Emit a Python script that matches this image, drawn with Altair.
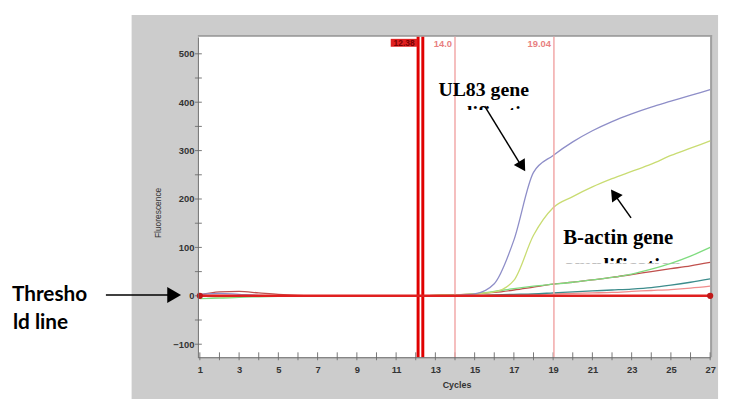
import altair as alt
import pandas as pd

cycles = list(range(1, 28))
ul83 = [3, 5, 3, 1, 0, 0, 0, 0, 0, 0, 0, 0, 0, 1, 4, 25, 115, 255, 290, 318, 341, 360, 376, 390, 402, 414, 426]
bactin = [0, -2, -1, 0, 0, 0, 0, 0, 0, 0, 0, 0, 1, 2, 4, 8, 32, 125, 182, 205, 225, 242, 257, 272, 290, 305, 320]
green = [-6, -5, -3, -2, -1, 0, 0, -1, -1, 0, 0, 0, 1, 2, 4, 9, 15, 20, 24, 28, 33, 38, 45, 55, 67, 82, 100]
brown = [2, 8, 9, 6, 3, 1, 0, 0, 0, 0, 0, 0, 1, 2, 4, 7, 12, 18, 24, 28, 33, 38, 44, 50, 56, 62, 69]
teal = [0, -2, -1, 0, 0, 0, 0, 0, 0, 0, 0, 0, 0, 1, 1, 2, 3, 4, 6, 8, 10, 12, 14, 17, 22, 28, 35]
pink = [1, 1, 0, 0, 0, 0, 0, 0, 0, 0, 0, 0, 0, 0, 1, 1, 2, 3, 4, 5, 6, 7, 9, 11, 13, 16, 20]
threshold = [0] * 27

series_names = ["pink", "teal", "brown", "green", "bactin", "ul83"]
series_vals = [pink, teal, brown, green, bactin, ul83]
series_colors = ["#f08c8c", "#3c8c8c", "#c0504d", "#7fdc7f", "#c9dc72", "#8e8ec8"]

marker_cycles = [1, 27]
marker_vals = [0, 0]

vline_red = [12.12, 12.36]
vline_pink = [14.0, 19.04]
vline_pink_labels = ["14.0", "19.04"]

x_ticks = list(range(1, 28, 2))
x_minor = list(range(1, 28))
y_ticks = [-100, 0, 100, 200, 300, 400, 500]
y_minor = list(range(-100, 501, 50))

rows = []
for name, vals in zip(series_names, series_vals):
    for c, v in zip(cycles, vals):
        rows.append({"series": name, "cycle": c, "value": v})
df = pd.DataFrame(rows)
thr = pd.DataFrame({"cycle": cycles, "value": threshold})
mk = pd.DataFrame({"cycle": marker_cycles, "value": marker_vals})
vr = pd.DataFrame({"cycle": vline_red})
vp = pd.DataFrame({"cycle": vline_pink, "label": vline_pink_labels})
xm = pd.DataFrame({"cycle": x_minor})
ym = pd.DataFrame({"value": y_minor})
one = pd.DataFrame({"a": [0]})

xs = alt.Scale(domain=[0.9, 27.0], nice=False, zero=False)
ys = alt.Scale(domain=[-127, 535], nice=False, zero=False)
xaxis = alt.Axis(values=x_ticks, title=None, grid=False, labelFlush=False, zindex=1,
                 tickSize=0, labelPadding=7, labelOverlap=False)
yaxis = alt.Axis(values=y_ticks, title=None, grid=False, labelFlush=False, zindex=1,
                 tickSize=0, labelPadding=4, labelOverlap=False)
X = alt.X("cycle:Q", scale=xs, axis=xaxis)
Y = alt.Y("value:Q", scale=ys, axis=yaxis)


def rect(x, x2, y, y2, color):
    return alt.Chart(one).mark_rect(color=color).encode(
        x=alt.value(x), x2=alt.value(x2), y=alt.value(y), y2=alt.value(y2))


def txt(s, x, y, size, font, color="#000", weight="bold", align="center", angle=0, baseline="alphabetic"):
    return alt.Chart(one).mark_text(
        text=s, fontSize=size, font=font, color=color, fontWeight=weight,
        align=align, baseline=baseline, angle=angle).encode(x=alt.value(x), y=alt.value(y))


def seg(x, y, x2, y2, w=1.5):
    return alt.Chart(one).mark_rule(color="#000", strokeWidth=w).encode(
        x=alt.value(x), y=alt.value(y), x2=alt.value(x2), y2=alt.value(y2))


def head(x, y, angle, size):
    return alt.Chart(one).mark_point(shape="triangle-up", filled=True, color="#000",
                                     opacity=1, size=size, angle=angle).encode(
        x=alt.value(x), y=alt.value(y))


# page background is gray; white margins outside the gray panel
white_left = rect(-200, -67, -40, 370, "#ffffff")
white_top = rect(-200, 540, -40, -22, "#ffffff")
white_right = rect(526, 540, -40, 370, "#ffffff")
top_border = rect(0, 520, -2, 0, "#a0a0a0")
right_border = rect(518, 520, -2, 324, "#a0a0a0")

x_minor_ticks = alt.Chart(xm).mark_rule(color="#777", strokeWidth=1).encode(
    x=X, y=alt.value(319), y2=alt.value(327))
y_minor_ticks = alt.Chart(ym).mark_rule(color="#777", strokeWidth=1).encode(
    y=Y, x=alt.value(-3), x2=alt.value(4))

serif = "Liberation Serif"
amp1 = txt("amplification", 291, 83, 20, serif)
amp2 = txt("amplification", 430, 239, 21, serif)
cover1 = rect(225, 360, 74, 92, "#ffffff")
cover2 = rect(360, 505, 229, 246, "#ffffff")

lines = alt.Chart(df).mark_line(strokeWidth=1.3, interpolate="monotone").encode(
    x=X, y=Y,
    color=alt.Color("series:N", scale=alt.Scale(domain=series_names, range=series_colors), legend=None),
    order="cycle:Q")
thr_line = alt.Chart(thr).mark_line(color="#e02020", strokeWidth=2.5).encode(x=X, y=Y)
markers = alt.Chart(mk).mark_point(filled=True, color="#c01818", size=40, opacity=1).encode(x=X, y=Y)

red_rules = alt.Chart(vr).mark_rule(color="#e00000", strokeWidth=3).encode(x=X)
pink_rules = alt.Chart(vp).mark_rule(color="#f2a8a8", strokeWidth=1.5).encode(x=X)
pink_labels = alt.Chart(vp).mark_text(align="right", dx=-3, fontSize=9.5, fontWeight="bold",
                                      color="#e88080", font="Liberation Sans", baseline="middle").encode(
    x=X, y=alt.value(7), text="label:N")
red_box = rect(195, 222, 2, 10, "#e02020")
red_box_text = txt("12.38", 208.5, 6.5, 8.5, "Liberation Sans", color="#7a0000", baseline="middle")

ul_text = txt("UL83 gene", 289, 60, 20, serif)
ba_text = txt("B-actin gene", 425, 209, 21, serif)
arrow1 = seg(290, 70, 328, 132)
head1 = head(328, 131, 148, 170)
arrow2 = seg(438, 183, 421, 159)
head2 = head(421, 159, 325, 170)

thr1 = txt("Thresho", -188, 267, 21, "Lato", align="left")
thr2 = txt("ld line", -187, 295, 21, "Lato", align="left")
arrow3 = seg(-93, 261, -28, 261)
head3 = head(-24, 261, 90, 260)

ytitle = txt("Fluorescence", -40, 178, 8.5, "Liberation Sans", color="#333", weight="normal",
             angle=270, baseline="middle")
xtitle = txt("Cycles", 262, 355, 9, "Liberation Sans", color="#333", weight="bold")

chart = alt.layer(
    white_left, white_top, white_right, top_border, right_border, amp1, amp2, cover1, cover2,
    lines, x_minor_ticks, y_minor_ticks,
    pink_rules, red_rules, thr_line, markers, pink_labels, red_box, red_box_text,
    ul_text, ba_text, arrow1, head1, arrow2, head2, thr1, thr2, arrow3, head3, ytitle, xtitle
).properties(
    width=518, height=324,
    autosize=alt.AutoSizeParams(type="none"),
    padding={"left": 192, "top": 27, "right": 14, "bottom": 40},
    background="#cccccc"
).configure_view(stroke=None, fill="#ffffff").configure_axis(
    zindex=1, domainColor="#666", labelOverlap=False,
    labelFont="Liberation Sans", labelFontSize=9.5, labelColor="#333", labelFontWeight="bold"
)

chart.save("out.html", embed_options={"renderer": "svg", "actions": False})
